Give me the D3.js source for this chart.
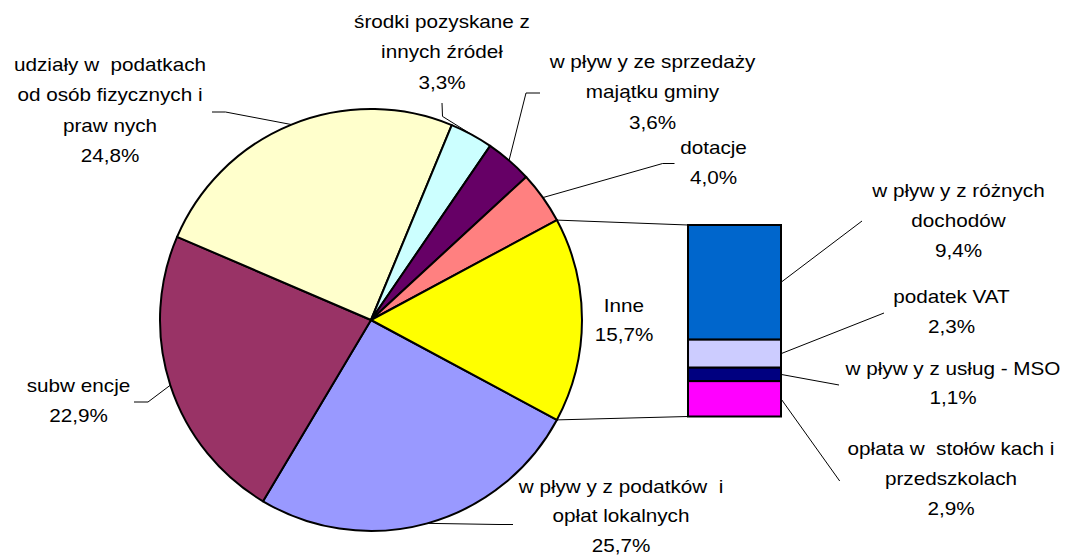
<!DOCTYPE html>
<html><head><meta charset="utf-8">
<script src="https://cdn.jsdelivr.net/npm/d3@7"></script>
<style>
html,body{margin:0;padding:0;background:#fff;}
svg{display:block;}
text{font-family:"Liberation Sans",Arial,sans-serif;font-size:18px;fill:#000;white-space:pre;}
</style></head><body>
<svg id="chart" width="1074" height="559"></svg>
<script>
// ---------- data ----------
const pieCategories = [
  "wpływy z podatków i opłat lokalnych",
  "subwencje",
  "udziały w podatkach od osób fizycznych i prawnych",
  "środki pozyskane z innych źródeł",
  "wpływy ze sprzedaży majątku gminy",
  "dotacje",
  "Inne"
];
const pieValues = [25.7, 22.9, 24.8, 3.3, 3.6, 4.0, 15.7];
const pieLabelLines = [
  ["w pływ y z podatków  i", "opłat lokalnych", "25,7%"],
  ["subw encje", "22,9%"],
  ["udziały w  podatkach", "od osób fizycznych i", "praw nych", "24,8%"],
  ["środki pozyskane z", "innych źródeł", "3,3%"],
  ["w pływ y ze sprzedaży", "majątku gminy", "3,6%"],
  ["dotacje", "4,0%"],
  ["Inne", "15,7%"]
];
const barCategories = [
  "wpływy z różnych dochodów",
  "podatek VAT",
  "wpływy z usług - MSO",
  "opłata w stołówkach i przedszkolach"
];
const barValues = [9.4, 2.3, 1.1, 2.9];
const barLabelLines = [
  ["w pływ y z różnych", "dochodów", "9,4%"],
  ["podatek VAT", "2,3%"],
  ["w pływ y z usług - MSO", "1,1%"],
  ["opłata w  stołów kach i", "przedszkolach", "2,9%"]
];

// ---------- styles & layout ----------
const pieColors = ["#9999FF", "#993366", "#FFFFCC", "#CCFFFF", "#660066", "#FF8080", "#FFFF00"];
const barColors = ["#0066CC", "#CCCCFF", "#000080", "#FF00FF"];
const pieLabelLayout = [
  {x: 621, y: 492.5, lh: 30, leader: [[513, 524.5], [499, 524.5]]},
  {x: 78.5, y: 392, lh: 30, leader: [[134, 402], [148, 402]]},
  {x: 110, y: 70.5, lh: 30.6, leader: [[212, 112], [225.5, 112]]},
  {x: 442, y: 27.5, lh: 30.6, leader: [[442, 103], [442.5, 116.4]]},
  {x: 652.5, y: 67.5, lh: 30.6, leader: [[540, 93], [526, 93]]},
  {x: 713.5, y: 154, lh: 30, leader: [[674.5, 163.5], [662.6, 163.5]]},
  {x: 624, y: 311.5, lh: 29.5, leader: null}
];
const barLabelLayout = [
  {x: 958.5, y: 196.5, lh: 30.5, leader: [862, 221]},
  {x: 951.5, y: 303, lh: 30, leader: [884, 313]},
  {x: 953, y: 374.5, lh: 30, leader: [839, 385]},
  {x: 951, y: 454.5, lh: 30.5, leader: [839.7, 481]}
];
const cx = 371, cy = 320, R = 211;
const barX = 688, barW = 93, barTop = 225, barBottom = 416.5;
const textScaleX = 1.15;

// ---------- drawing ----------
const svg = d3.select("#chart");
const total = d3.sum(pieValues);
const inneFrac = pieValues[pieValues.length - 1] / total;
const start = Math.PI / 2 + inneFrac * Math.PI;
const pie = d3.pie().sort(null).value(d => d).startAngle(start).endAngle(start + 2 * Math.PI);
const arcs = pie(pieValues);
const arc = d3.arc().innerRadius(0).outerRadius(R);
const pt = (a, r) => [cx + r * Math.sin(a), cy - r * Math.cos(a)];

const gPie = svg.append("g").attr("transform", `translate(${cx},${cy})`);
gPie.selectAll("path").data(arcs).join("path")
  .attr("d", arc)
  .attr("fill", (d, i) => pieColors[i])
  .attr("stroke", "#000").attr("stroke-width", 2).attr("stroke-linejoin", "round");

// bar
const barTotal = d3.sum(barValues);
const y = d3.scaleLinear().domain([0, barTotal]).range([barTop, barBottom]);
const cum = barValues.map((v, i) => d3.sum(barValues.slice(0, i)));
svg.append("g").selectAll("rect").data(barValues).join("rect")
  .attr("x", barX).attr("width", barW)
  .attr("y", (d, i) => y(cum[i]))
  .attr("height", (d, i) => y(cum[i] + d) - y(cum[i]))
  .attr("fill", (d, i) => barColors[i])
  .attr("stroke", "#000").attr("stroke-width", 2);

// connectors pie -> bar
const inneArc = arcs[arcs.length - 1];
const pTop = pt(inneArc.startAngle, R);
const pBot = pt(inneArc.endAngle, R);
const lines = svg.append("g").attr("fill", "none").attr("stroke", "#000").attr("stroke-width", 1);
lines.append("line").attr("x1", pTop[0]).attr("y1", pTop[1]).attr("x2", barX).attr("y2", y(0));
lines.append("line").attr("x1", pBot[0]).attr("y1", pBot[1]).attr("x2", barX).attr("y2", y(barTotal));

// pie leaders
const lineGen = d3.line();
arcs.forEach((a, i) => {
  const L = pieLabelLayout[i];
  if (!L.leader) return;
  const mid = (a.startAngle + a.endAngle) / 2;
  const pts = L.leader.concat([pt(mid, R)]);
  lines.append("path").attr("d", lineGen(pts));
});
// bar leaders
barValues.forEach((v, i) => {
  const L = barLabelLayout[i];
  const ym = y(cum[i] + v / 2);
  lines.append("path").attr("d", lineGen([L.leader, [barX + barW, ym]]));
});

// labels
function label(L, textLines) {
  const t = svg.append("text")
    .attr("transform", `translate(${L.x},${L.y}) scale(${textScaleX},1)`)
    .attr("text-anchor", "middle");
  textLines.forEach((s, k) => {
    t.append("tspan").attr("x", 0).attr("y", k * L.lh).text(s);
  });
}
pieLabelLayout.forEach((L, i) => label(L, pieLabelLines[i]));
barLabelLayout.forEach((L, i) => label(L, barLabelLines[i]));
</script>
</body></html>
